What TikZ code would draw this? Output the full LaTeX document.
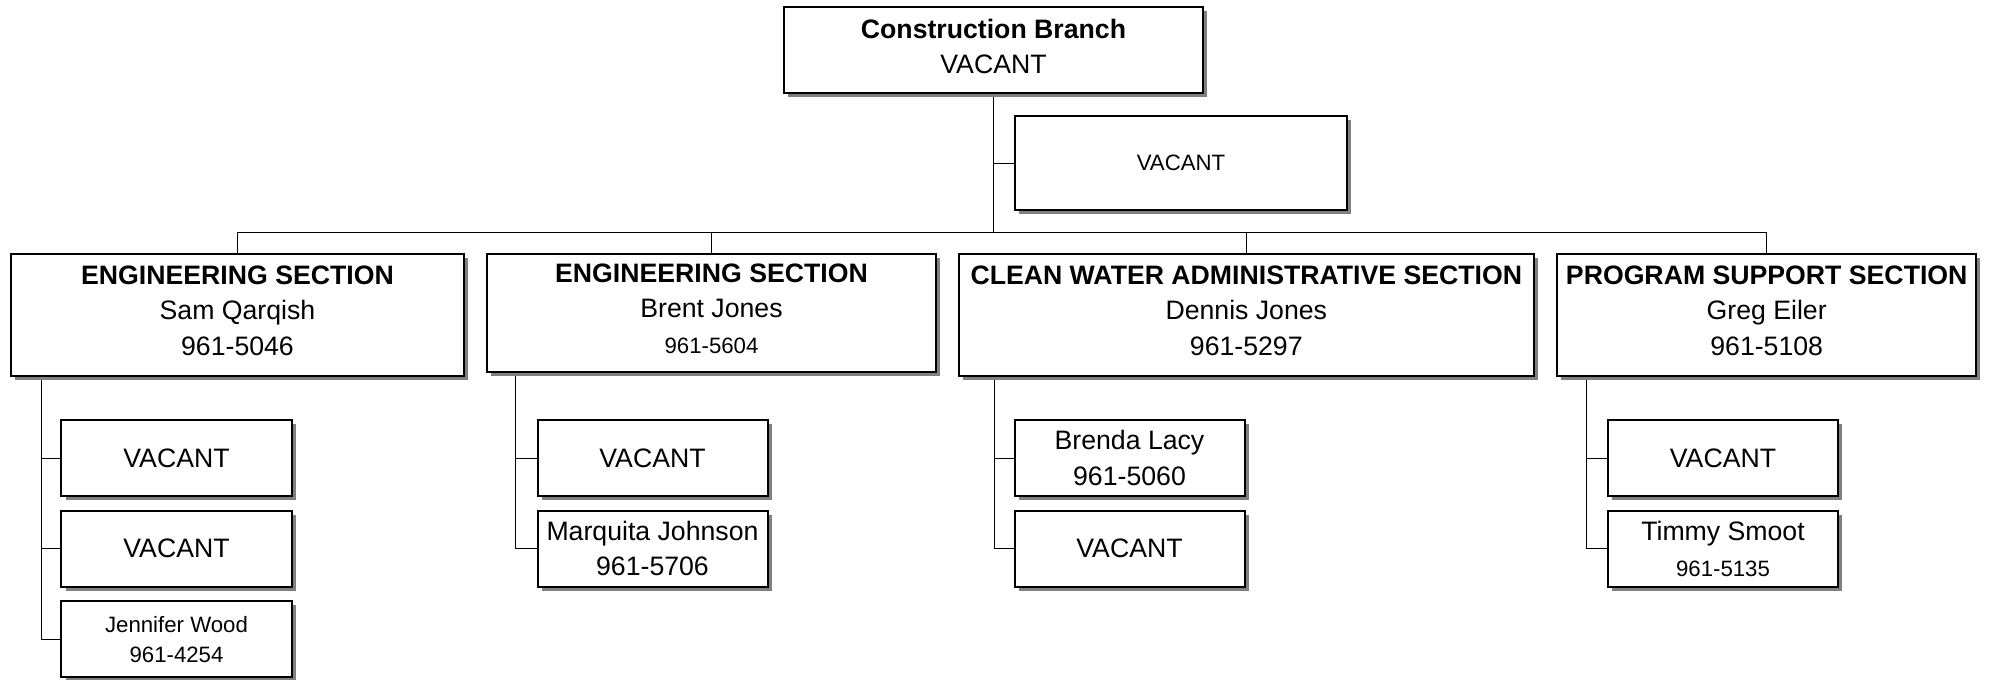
\documentclass[tikz,border=0pt]{standalone}
\usepackage{fontspec}
\setmainfont{Liberation Sans}
\usetikzlibrary{positioning,shadows,backgrounds}
\newcommand\smalltxt{\fontsize{10}{13.5}\selectfont}

\begin{document}
\begin{tikzpicture}[x=0.45pt,y=-0.45pt,line width=0.8pt]
	\tikzstyle{box_style} = [draw, line width=0.9pt, fill=white, align=center, inner sep=2pt, font=\fontsize{12}{16}\selectfont,
		drop shadow={shadow xshift=1.8pt, shadow yshift=-1.8pt, fill=black!50, opacity=1}]
	\tikzstyle{unit_style} = [box_style, minimum height=54.9pt, text depth=4pt]
	\tikzstyle{staff_style} = [box_style, minimum width=103.5pt, minimum height=34.2pt]
	\useasboundingbox (0,0) rectangle (1989,679);
	%%% branch
	\node[box_style, minimum width=188.6pt, minimum height=38.7pt, text depth=3.5pt] (branch) at (993.5,50) {\textbf{Construction Branch}\\VACANT};
	\node[box_style, minimum width=149.6pt, minimum height=42.3pt, font=\smalltxt] (deputy) at (1181,163) {VACANT};
	%%% sections
	\node[unit_style, minimum width=203.9pt] (eng-1) at (237.5,315) {\textbf{ENGINEERING SECTION}\\Sam Qarqish\\961-5046};
	\node[unit_style, minimum width=202pt, minimum height=53.1pt] (eng-2) at (711.5,313) {\textbf{ENGINEERING SECTION}\\Brent Jones\\\smalltxt 961-5604};
	\node[unit_style, minimum width=259pt] (water) at (1246.3,315) {\textbf{CLEAN WATER ADMINISTRATIVE SECTION}\\Dennis Jones\\961-5297};
	\node[unit_style, minimum width=188.7pt] (support) at (1766.7,315) {\textbf{PROGRAM SUPPORT SECTION}\\Greg Eiler\\961-5108};
	%%% staff
	\begin{scope}[node distance=5.7pt]
		\node[staff_style] (eng-1-1) at (176.5,458) {VACANT};
		\node[staff_style, below=of eng-1-1] (eng-1-2) {VACANT};
		\node[staff_style, below=of eng-1-2, font=\smalltxt] (eng-1-3) {Jennifer Wood\\961-4254};
		\node[staff_style] (eng-2-1) at (652.5,458) {VACANT};
		\node[staff_style, below=of eng-2-1] (eng-2-2) {Marquita Johnson\\961-5706};
		\node[staff_style] (water-1) at (1129.5,458) {Brenda Lacy\\961-5060};
		\node[staff_style, below=of water-1] (water-2) {VACANT};
		\node[staff_style] (support-1) at (1723,458) {VACANT};
		\node[staff_style, below=of support-1] (support-2) {Timmy Smoot\\\smalltxt 961-5135};
	\end{scope}
	%%% lines
	\coordinate (bus) at (993.5,232);
	\coordinate (eng-1-t) at (41,376);
	\coordinate (eng-2-t) at (515,372);
	\coordinate (water-t) at (994,376);
	\coordinate (support-t) at (1586.6,376);
	\begin{scope}[on background layer]
		\draw (branch.south) -- (bus);
		\draw (deputy.west) -- (deputy.west -| branch.south);
		\draw (eng-1.north) |- (bus) -| (support.north);
		\foreach \s in {eng-2,water}{
			\draw (\s.north) -- (\s.north |- bus);
		}
		\draw (eng-1-t) |- (eng-1-3.west);
		\draw (eng-2-t) |- (eng-2-2.west);
		\draw (water-t) |- (water-2.west);
		\draw (support-t) |- (support-2.west);
		\foreach \c/\t in {eng-1-1/eng-1-t,eng-1-2/eng-1-t,eng-2-1/eng-2-t,water-1/water-t,support-1/support-t}{
			\draw (\c.west) -- (\c.west -| \t);
		}
	\end{scope}
\end{tikzpicture}
\end{document}
